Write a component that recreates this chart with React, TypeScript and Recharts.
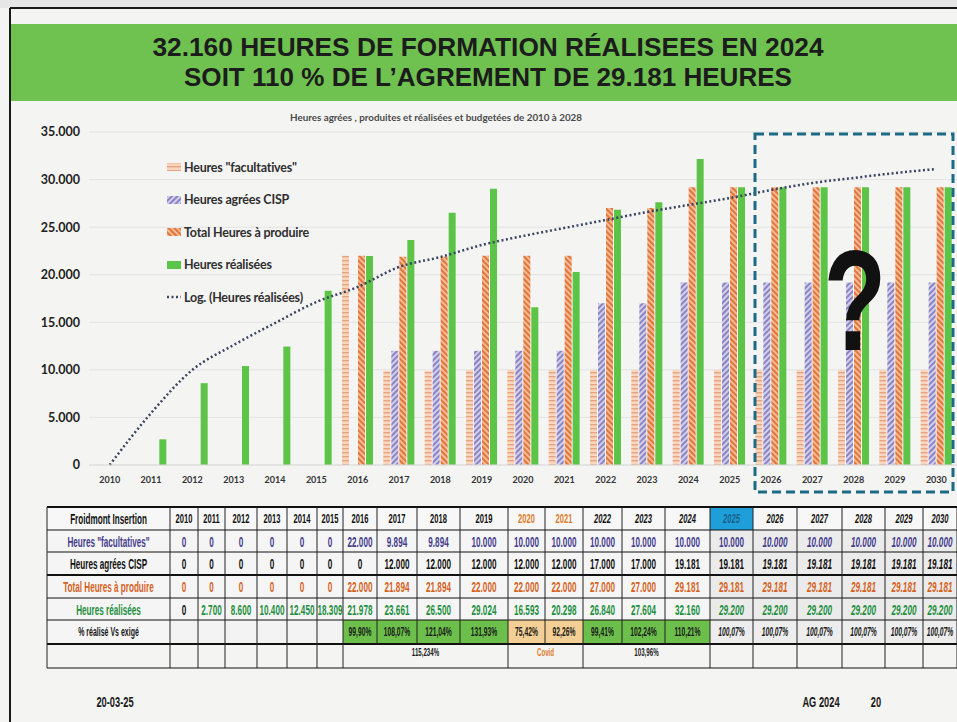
import React from 'react';
import { ComposedChart, Bar, Line, XAxis, YAxis, CartesianGrid, Legend } from 'recharts';

const years = ['2010','2011','2012','2013','2014','2015','2016','2017','2018','2019','2020','2021','2022','2023','2024','2025','2026','2027','2028','2029','2030'];
const facultatives = [0,0,0,0,0,0,22000,9894,9894,10000,10000,10000,10000,10000,10000,10000,10000,10000,10000,10000,10000];
const agreesCisp = [0,0,0,0,0,0,0,12000,12000,12000,12000,12000,17000,17000,19181,19181,19181,19181,19181,19181,19181];
const totalProduire = [0,0,0,0,0,0,22000,21894,21894,22000,22000,22000,27000,27000,29181,29181,29181,29181,29181,29181,29181];
const realisees = [0,2700,8600,10400,12450,18309,21978,23661,26500,29024,16593,20298,26840,27604,32160,29200,29200,29200,29200,29200,29200];
const logTrend = [0,5450,9990,12610,14920,17130,18710,20810,21860,23120,24070,24910,25750,26590,27330,28060,28900,29640,30170,30690,31110];
const pctLabels = ['','','','','','','99,90%','108,07%','121,04%','131,93%','75,42%','92,26%','99,41%','102,24%','110,21%','100,07%','100,07%','100,07%','100,07%','100,07%','100,07%'];
const yTicks = [0,5000,10000,15000,20000,25000,30000,35000];
const legendOrder = ['fac', 'cisp', 'total', 'real', 'trend'];
const groupNotes = [
  { from: 6, to: 9, text: '115,234%', color: '#222' },
  { from: 10, to: 11, text: 'Covid', color: '#e07b28' },
  { from: 12, to: 14, text: '103,96%', color: '#222' },
];

const data = years.map((y, i) => ({
  year: y,
  fac: facultatives[i],
  cisp: agreesCisp[i],
  total: totalProduire[i],
  real: realisees[i],
  trend: logTrend[i],
}));

const fmt = (v: number) => (v === 0 ? '0' : String(v).replace(/\B(?=(\d{3})+(?!\d))/g, '.'));

const colEdges = [47,170,198,225,257,287,317,343,377,417,460,508,545,583,622,665,710,753,797,842,885,923,957];
const rowEdges = [507,530,552,575,598,620,644,668];

const NText = ({ x, y, children, size = 13, color = '#111', sx = 0.62, italic = false, weight = 700 }: any) => (
  <g transform={`translate(${x},${y}) scale(${sx},1)`}>
    <text textAnchor="middle" dominantBaseline="central" fontSize={size} fontWeight={weight}
      fontStyle={italic ? 'italic' : 'normal'} fill={color} fontFamily="'Liberation Sans', Arial, sans-serif">{children}</text>
  </g>
);

const renderLegend = (props: any) => {
  const payload = [...(props.payload || [])].sort(
    (a: any, b: any) => legendOrder.indexOf(a.dataKey) - legendOrder.indexOf(b.dataKey));
  return (
    <div style={{ display: 'flex', flexDirection: 'column' }}>
      {payload.map((p: any, i: number) => (
        <div key={i} style={{ height: 32.5, display: 'flex', alignItems: 'center' }}>
          <svg width={16} height={10} style={{ marginRight: 2 }}>
            {p.type === 'line' ? (
              <line x1={1} y1={5} x2={15} y2={5} stroke={p.color} strokeWidth={2.5} strokeDasharray="2 2.5" />
            ) : (
              <rect x={1} y={1} width={14} height={8} fill={p.color} />
            )}
          </svg>
          <span style={{ fontFamily: 'Lato, sans-serif', fontWeight: 700, fontSize: 12.5, color: '#2f2f2f', letterSpacing: -0.2, whiteSpace: 'nowrap' }}>{p.value}</span>
        </div>
      ))}
    </div>
  );
};

const Table = () => {
  const rows = [
    { label: 'Heures "facultatives"', values: facultatives.map(fmt), color: '#463d8c' },
    { label: 'Heures agrées CISP', values: agreesCisp.map(fmt), color: '#111' },
    { label: 'Total Heures à produire', values: totalProduire.map(fmt), color: '#d6621d' },
    { label: 'Heures réalisées', values: realisees.map(fmt), color: '#1e8f3e' },
    { label: '% réalisé Vs exigé', values: pctLabels, color: '#1a1a1a' },
  ];
  const pctBg = (i: number) => (i < 6 ? '#f3f3f3' : i <= 9 ? '#6cbf4a' : i <= 11 ? '#f3cf95' : i <= 14 ? '#6cbf4a' : '#ededed');
  const cx = (i: number) => (colEdges[i] + colEdges[i + 1]) / 2;
  const cy = (r: number) => (rowEdges[r] + rowEdges[r + 1]) / 2;
  return (
    <g>
      {rowEdges.slice(0, 6).map((y, r) => (
        <rect key={'bg' + r} x={colEdges[0]} y={y} width={colEdges[22] - colEdges[0]} height={rowEdges[r + 1] - y} fill={r === 0 ? '#f7f7f7' : '#f5f5f5'} />
      ))}
      {years.map((_, i) => (
        <rect key={'pb' + i} x={colEdges[i + 1]} y={rowEdges[5]} width={colEdges[i + 2] - colEdges[i + 1]} height={rowEdges[6] - rowEdges[5]} fill={pctBg(i)} />
      ))}
      {years.map((_, i) => i >= 15 ? (
        <rect key={'gb' + i} x={colEdges[i + 1]} y={rowEdges[1]} width={colEdges[i + 2] - colEdges[i + 1]} height={rowEdges[5] - rowEdges[1]} fill="#ebebeb" />
      ) : null)}
      <rect x={colEdges[16]} y={rowEdges[0]} width={colEdges[17] - colEdges[16]} height={rowEdges[1] - rowEdges[0]} fill="#1f9fd9" />
      {rowEdges.map((y, r) => (
        <line key={'h' + r} x1={colEdges[0]} x2={957} y1={y} y2={y} stroke="#111"
          strokeWidth={r === 0 || r === 3 || r === 6 ? 2 : 1} />
      ))}
      {colEdges.map((x, i) => (
        <line key={'v' + i} x1={x} x2={x} y1={rowEdges[0]} y2={rowEdges[6]} stroke="#222" strokeWidth={1} />
      ))}
      {colEdges.map((x, i) => {
        const k = i - 1;
        const inside = groupNotes.some(g => k > g.from && k <= g.to);
        return inside ? null : <line key={'vb' + i} x1={x} x2={x} y1={rowEdges[6]} y2={rowEdges[7]} stroke="#222" strokeWidth={1} />;
      })}
      <NText x={cx(0)} y={cy(0)} size={14.5} sx={0.56}>Froidmont Insertion</NText>
      {years.map((y, i) => (
        <NText key={'hy' + i} x={cx(i + 1)} y={cy(0)} size={13.5} sx={0.56} italic={i >= 12}
          color={i === 10 || i === 11 ? '#e07b28' : i === 15 ? '#1a5f8a' : '#111'}>{y}</NText>
      ))}
      {rows.map((row, r) => (
        <g key={'r' + r}>
          <NText x={cx(0)} y={cy(r + 1)} size={r === 4 ? 12.5 : 14.5} sx={0.56} color={row.color}>{row.label}</NText>
          {row.values.map((v, i) => (
            <NText key={i} x={cx(i + 1)} y={cy(r + 1)} size={r === 4 ? 12 : 14.5} sx={r === 4 ? 0.56 : 0.56}
              italic={r === 4 ? i >= 15 : i >= 16 || (r === 3 && i >= 15)}
              color={r === 3 && i === 0 ? '#111' : row.color}>{v}</NText>
          ))}
        </g>
      ))}
      {groupNotes.map((g, k) => (
        <NText key={'g' + k} x={(colEdges[g.from + 1] + colEdges[g.to + 2]) / 2} y={cy(6) - 4} size={11} sx={0.56} color={g.color}>{g.text}</NText>
      ))}
    </g>
  );
};

export default function App() {
  return (
    <div style={{ position: 'absolute', left: 0, top: 0, width: 957, height: 722, background: '#f4f4f3', overflow: 'hidden' }}>
      <div style={{ position: 'absolute', left: 0, top: 0, width: 957, height: 8, background: '#e6e6e6' }} />
      <div style={{ position: 'absolute', left: 10, top: 24, width: 947, height: 77, background: '#6fc250' }} />
      <div style={{ position: 'absolute', left: 0, top: 0 }}>
        <ComposedChart width={957} height={500} data={data} barGap={1}
          margin={{ top: 132, right: 0, left: 0, bottom: 5 }}>
          <defs>
            <pattern id="pFac" width="6" height="4" patternUnits="userSpaceOnUse">
              <rect width="6" height="4" fill="#f8d6c0" />
              <rect y="0" width="6" height="1.4" fill="#e9a47f" />
            </pattern>
            <pattern id="pCisp" width="4" height="4" patternUnits="userSpaceOnUse" patternTransform="rotate(45)">
              <rect width="4" height="4" fill="#d3cfea" />
              <rect width="2" height="4" fill="#8a85c2" />
            </pattern>
            <pattern id="pTot" width="4" height="4" patternUnits="userSpaceOnUse" patternTransform="rotate(-45)">
              <rect width="4" height="4" fill="#f7c3a1" />
              <rect width="2.2" height="4" fill="#e2753a" />
            </pattern>
          </defs>
          <CartesianGrid vertical={false} stroke="#e3e3e3" />
          <XAxis dataKey="year" interval={0} tickLine={false} axisLine={{ stroke: '#dcdcdc' }} tickSize={0} tickMargin={12}
            tick={{ fontSize: 9, fontWeight: 700, fill: '#333', fontFamily: 'Lato, sans-serif' }} />
          <YAxis width={89} domain={[0, 35000]} ticks={yTicks} tickFormatter={fmt} axisLine={false} tickLine={false}
            tickSize={0} tickMargin={9} tick={{ fontSize: 12.5, fontWeight: 700, fill: '#222', fontFamily: 'Lato, sans-serif' }} />
          <Legend layout="vertical" align="center" verticalAlign="middle" content={renderLegend}
            wrapperStyle={{ left: 166, top: 151, width: 220 }} />
          <Bar dataKey="fac" name={'Heures "facultatives"'} fill="url(#pFac)" barSize={7} isAnimationActive={false} />
          <Bar dataKey="cisp" name="Heures agrées CISP" fill="url(#pCisp)" barSize={7} isAnimationActive={false} />
          <Bar dataKey="total" name="Total Heures à produire" fill="url(#pTot)" barSize={7} isAnimationActive={false} />
          <Bar dataKey="real" name="Heures réalisées" fill="#5cc446" barSize={7} isAnimationActive={false} />
          <Line dataKey="trend" name="Log. (Heures réalisées)" type="monotone" stroke="#3a4560" strokeWidth={2.5}
            strokeDasharray="2 2.5" dot={false} activeDot={false} isAnimationActive={false} />
        </ComposedChart>
      </div>
      <svg width={957} height={722} style={{ position: 'absolute', left: 0, top: 0, pointerEvents: 'none' }}>
        <line x1={10} y1={8} x2={957} y2={8} stroke="#1a1a1a" strokeWidth={2} />
        <line x1={10} y1={8} x2={10} y2={722} stroke="#1a1a1a" strokeWidth={2} />
        <text x={488} y={56} textAnchor="middle" textLength={671} lengthAdjust="spacingAndGlyphs" fontSize={25} fontWeight={700}
          fill="#1c1c1c" fontFamily="'Liberation Sans', Arial, sans-serif">32.160 HEURES DE FORMATION RÉALISEES EN 2024</text>
        <text x={488} y={86} textAnchor="middle" textLength={608} lengthAdjust="spacingAndGlyphs" fontSize={25} fontWeight={700}
          fill="#1c1c1c" fontFamily="'Liberation Sans', Arial, sans-serif">SOIT 110 % DE L’AGREMENT DE 29.181 HEURES</text>
        <text x={436} y={121} textAnchor="middle" textLength={292} lengthAdjust="spacingAndGlyphs" fontSize={10} fontWeight={700}
          fill="#4a4a4a" fontFamily="Lato, sans-serif">Heures agrées , produites et réalisées et budgetées de 2010 à 2028</text>
        <rect x={755} y={134} width={198} height={358} fill="none" stroke="#1d6a86" strokeWidth={3} strokeDasharray="9 5" />
        <g transform="translate(855,350) scale(0.72,1)">
          <text textAnchor="middle" fontSize={142} fontWeight={700} fill="#111" fontFamily="'Liberation Sans', Arial, sans-serif">?</text>
        </g>
        <Table />
        <NText x={115} y={702} size={15} sx={0.62} color="#1a1a1a">20-03-25</NText>
        <NText x={821} y={702} size={15} sx={0.62} color="#1a1a1a">AG 2024</NText>
        <NText x={876} y={702} size={15} sx={0.62} color="#1a1a1a">20</NText>
      </svg>
    </div>
  );
}
